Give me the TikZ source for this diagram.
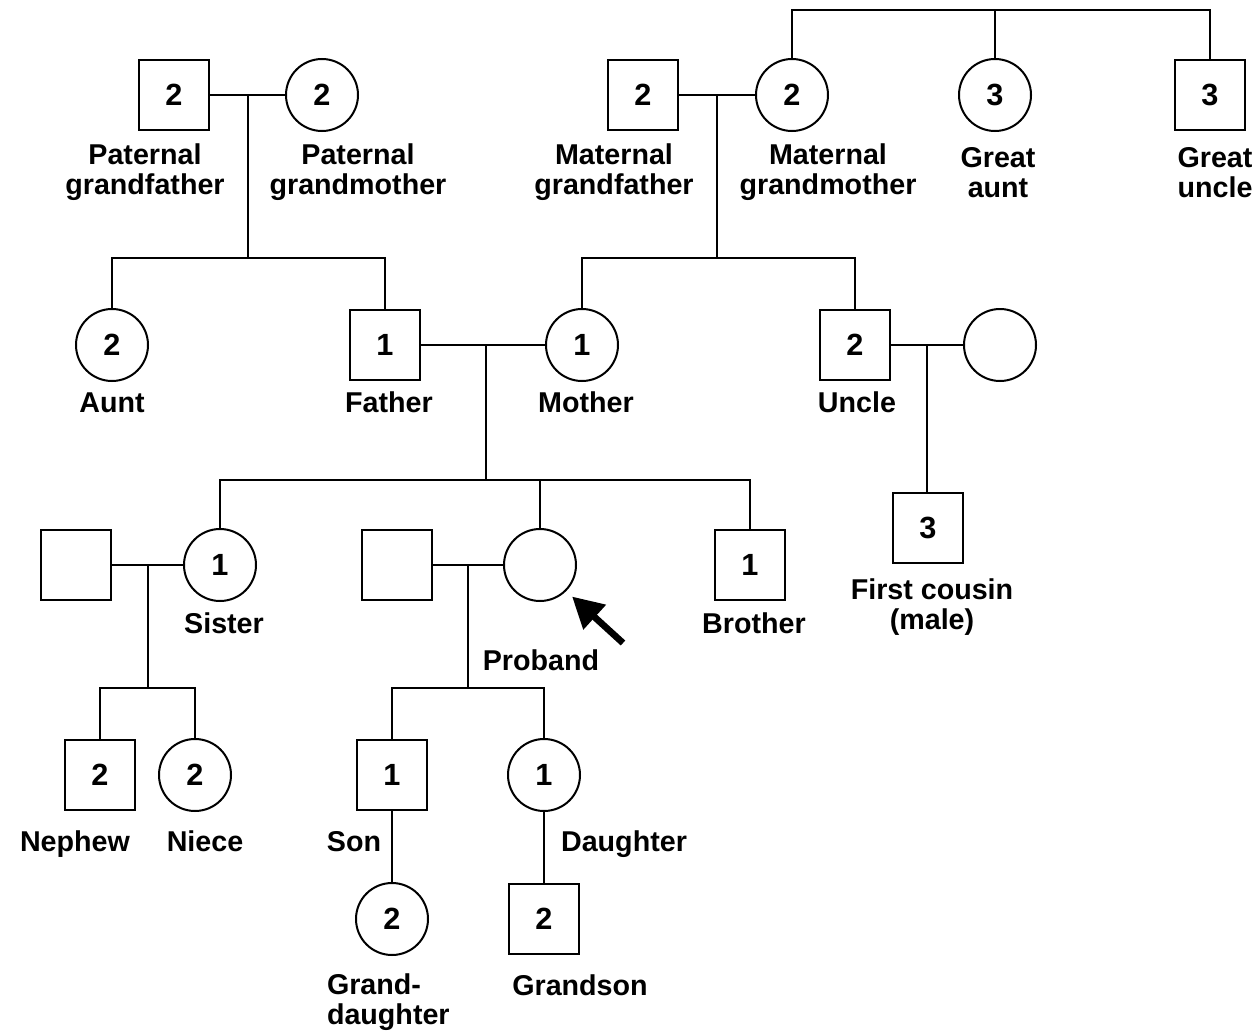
\documentclass[tikz,border=0pt]{standalone}
\usepackage{fontspec}
\setmainfont{Liberation Sans}
\usetikzlibrary{positioning,calc,arrows.meta}
\begin{document}
\begin{tikzpicture}[
			x=0.75pt, y=-0.75pt,
			line width=1.5pt,
			male/.style={rectangle, draw, minimum size=52.5pt, inner sep=0pt, font=\fontsize{23}{26}\selectfont\bfseries},
			female/.style={circle, draw, minimum size=54pt, inner sep=0pt, font=\fontsize{23}{26}\selectfont\bfseries},
			lbl/.style={align=center, inner sep=0pt, font=\fontsize{21.5}{22.5}\selectfont\bfseries},
			word/.style={lbl, anchor=base},
			probarrow/.style={line width=5pt, -{Triangle[length=23pt,width=24pt]}}
			]
			\useasboundingbox (0,0) rectangle (1260,1031);
			
			% grandparents
			\node[male] (pgf) at (174,95) {2};
			\node[female] (pgm) at (322,95) {2};
			\node[male] (mgf) at (643,95) {2};
			\node[female] (mgm) at (792,95) {2};
			\node[female] (gaunt) at (995,95) {3};
			\node[male] (guncle) at (1210,95) {3};
			\node[lbl] (pgfl) at (145,172) {Paternal\\grandfather};
			\node[lbl] (pgml) at (358,172) {Paternal\\grandmother};
			\node[lbl] (mgfl) at (614,172) {Maternal\\grandfather};
			\node[lbl] (mgml) at (828,172) {Maternal\\grandmother};
			\node[lbl] (gauntl) at (998,173) {Great\\aunt};
			\node[lbl] (guncll) at (1215,173) {Great\\uncle};
			
			% parents
			\node[female] (aunt) at (112,345) {2};
			\node[male] (father) at (385,345) {1};
			\node[female] (mother) at (582,345) {1};
			\node[male] (uncle) at (855,345) {2};
			\node[female] (uspouse) at (1000,345) {};
			\node[word] (auntl) at (112,412) {Aunt};
			\node[word] (fatherl) at (389,412) {Father};
			\node[word] (motherl) at (586,412) {Mother};
			\node[word] (unclel) at (857,412) {Uncle};
			\node[male] (cousin) at (928,528) {3};
			\node[lbl] (cousinl) at (932,607) {First cousin\\(male)};
			
			% proband and siblings
			\node[male] (sspouse) at (76,565) {};
			\node[female] (sister) at (220,565) {1};
			\node[male] (pspouse) at (397,565) {};
			\node[female] (proband) at (540,565) {};
			\node[male] (brother) at (750,565) {1};
			\node[word] (sisterl) at (224,633) {Sister};
			\node[word] (brotherl) at (754,633) {Brother};
			\node[word] (probandl) at (541,670) {Proband};
			
			% children
			\node[male] (nephew) at (100,775) {2};
			\node[female] (niece) at (195,775) {2};
			\node[male] (son) at (392,775) {1};
			\node[female] (daughter) at (544,775) {1};
			\node[female] (gdaughter) at (392,919) {2};
			\node[male] (gson) at (544,919) {2};
			\node[word] (nephewl) at (75,851) {Nephew};
			\node[word] (niecel) at (205,851) {Niece};
			\node[word] (sonl) at (354,851) {Son};
			\node[word] (daughterl) at (624,851) {Daughter};
			\node[lbl, align=left, anchor=west] (gdaughterl) at (326,1002) {Grand-\\daughter};
			\node[word] (gsonl) at (580,995) {Grandson};
			
			% couples and lines of descent
			\coordinate (pc) at ($(pgf.east)!0.5!(pgm.west)$);
			\coordinate (psib) at ($(pc)+(0,163)$);
			\draw (pgf) -- (pgm);
			\draw (pc) -- (psib);
			\draw (aunt.north) |- (psib) -| (father.north);
			
			\coordinate (mc) at ($(mgf.east)!0.5!(mgm.west)$);
			\coordinate (msib) at ($(mc)+(0,163)$);
			\draw (mgf) -- (mgm);
			\draw (mc) -- (msib);
			\draw (mother.north) |- (msib) -| (uncle.north);
			
			\coordinate (gtop) at (995,10);
			\draw (mgm.north) |- (gtop) -| (guncle.north);
			\draw (gtop) -- (gaunt.north);
			
			\coordinate (fc) at (486,345);
			\coordinate (fsib) at (486,480);
			\draw (father) -- (mother);
			\draw (fc) -- (fsib);
			\draw (sister.north) |- (fsib) -| (brother.north);
			\draw (proband.north) -- (proband.north |- fsib);
			
			\coordinate (uc) at ($(uncle.east)!0.5!(uspouse.west)$);
			\draw (uncle) -- (uspouse);
			\draw (uc) -- (uc |- cousin.north);
			
			\coordinate (sc) at ($(sspouse.east)!0.5!(sister.west)$);
			\coordinate (ssib) at ($(sc)+(0,123)$);
			\draw (sspouse) -- (sister);
			\draw (sc) -- (ssib);
			\draw (nephew.north) |- (ssib) -| (niece.north);
			
			\coordinate (prc) at ($(pspouse.east)!0.5!(proband.west)$);
			\coordinate (prsib) at ($(prc)+(0,123)$);
			\draw (pspouse) -- (proband);
			\draw (prc) -- (prsib);
			\draw (son.north) |- (prsib) -| (daughter.north);
			\draw (son) -- (gdaughter);
			\draw (daughter) -- (gson);
			
			% proband arrow
			\coordinate (parr) at (623,643);
			\draw[probarrow, shorten >=6pt] (parr) -- (proband.south east);
		\end{tikzpicture}
\end{document}
